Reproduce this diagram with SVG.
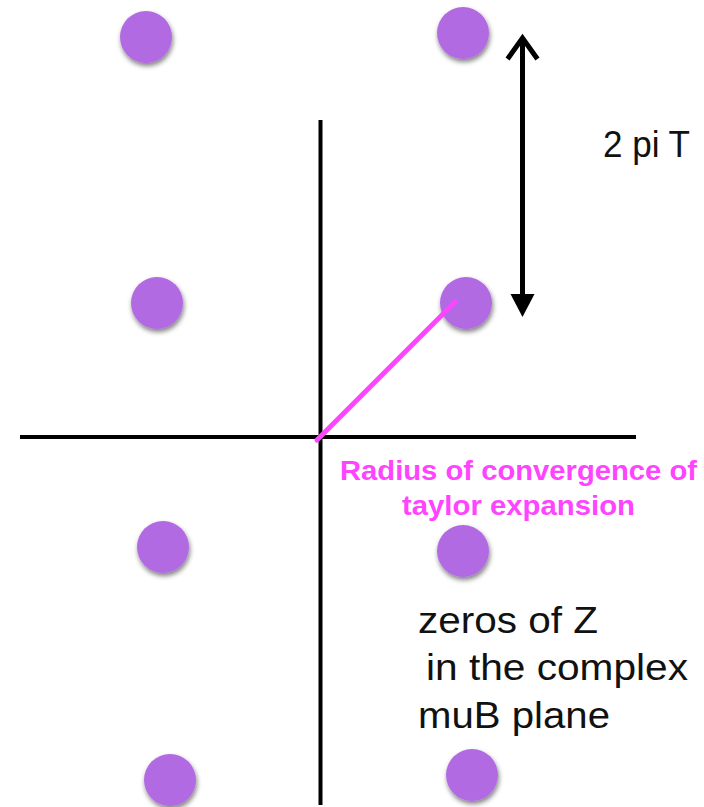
<svg xmlns="http://www.w3.org/2000/svg" width="704" height="807" viewBox="0 0 704 807">
<defs>
<filter id="sh" x="-50%" y="-50%" width="200%" height="200%">
<feGaussianBlur in="SourceAlpha" stdDeviation="2.5"/>
<feOffset dx="1" dy="3" result="b"/>
<feComponentTransfer><feFuncA type="linear" slope="0.5"/></feComponentTransfer>
<feMerge><feMergeNode/><feMergeNode in="SourceGraphic"/></feMerge>
</filter>
</defs>
<style>
.dot{fill:#b26ae3;filter:url(#sh)}
.axis{stroke:#000;stroke-width:4;fill:none}
.lbl{font-family:"Liberation Sans",Arial,sans-serif;fill:#111;font-size:36px}
.pink{font-family:"Liberation Sans",Arial,sans-serif;fill:#ff44ff;font-size:27px;font-weight:bold}
</style>
<rect width="704" height="807" fill="#fff"/>
<g id="axes">
<line class="axis" x1="320.5" y1="120" x2="320.5" y2="805"/>
<line class="axis" x1="20" y1="437" x2="636" y2="437"/>
</g>
<g id="zeros">
<g id="z1"><circle class="dot" cx="146" cy="37" r="26"/></g>
<g id="z2"><circle class="dot" cx="463" cy="33" r="26"/></g>
<g id="z3"><circle class="dot" cx="157" cy="303" r="26"/></g>
<g id="z4"><circle class="dot" cx="466" cy="303" r="26"/></g>
<g id="z5"><circle class="dot" cx="163" cy="547" r="26"/></g>
<g id="z6"><circle class="dot" cx="463" cy="551" r="26"/></g>
<g id="z7"><circle class="dot" cx="170" cy="780" r="26"/></g>
<g id="z8"><circle class="dot" cx="472" cy="775" r="26"/></g>
</g>
<g id="connectors">
<line x1="317" y1="440" x2="455" y2="302" stroke="#ff44ff" stroke-width="5" stroke-linecap="round"/>
<line x1="522.5" y1="38" x2="522.5" y2="300" stroke="#000" stroke-width="5"/>
<polyline points="509,57 522.5,38 536,57" fill="none" stroke="#000" stroke-width="5" stroke-linecap="square" stroke-linejoin="miter"/>
<polygon points="510.5,294 534.5,294 522.5,317" fill="#000"/>
</g>
<g id="labels">
<text class="lbl" x="603" y="157" textLength="87" lengthAdjust="spacingAndGlyphs">2 pi T</text>
<text class="pink" x="340" y="480" textLength="357" lengthAdjust="spacingAndGlyphs">Radius of convergence of</text>
<text class="pink" x="402" y="515" textLength="233" lengthAdjust="spacingAndGlyphs">taylor expansion</text>
<text class="lbl" x="418" y="633" textLength="180" lengthAdjust="spacingAndGlyphs">zeros of Z</text>
<text class="lbl" x="426" y="680" textLength="262" lengthAdjust="spacingAndGlyphs">in the complex</text>
<text class="lbl" x="418" y="728" textLength="192" lengthAdjust="spacingAndGlyphs">muB plane</text>
</g>
</svg>
